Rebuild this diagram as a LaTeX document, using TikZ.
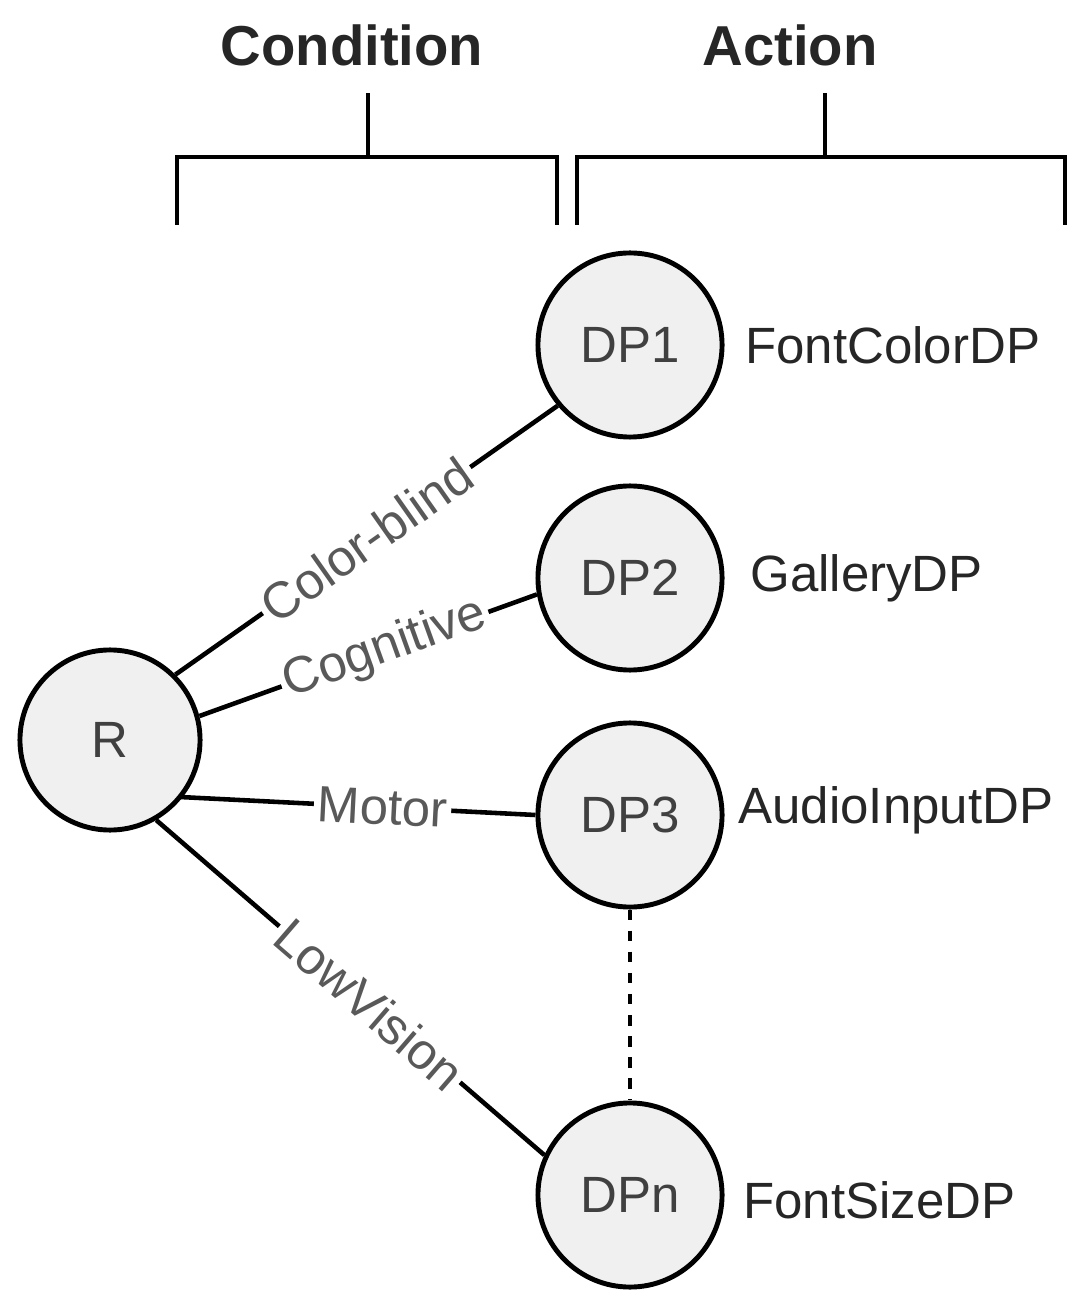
\documentclass[tikz,border=0pt]{standalone}
\usepackage{fontspec}
\setmainfont{Liberation Sans}
\begin{document}
\begin{tikzpicture}[x=0.01cm,y=-0.01cm,
  st/.style={circle,draw=black,line width=1.4pt,fill=gray!12,minimum size=1.84cm,inner sep=0pt,text=black!75,font=\fontsize{14.5}{17}\selectfont},
  el/.style={fill=white,inner sep=1pt,text=black!65,font=\fontsize{14.5}{17}\selectfont,sloped},
  ln/.style={line width=1.3pt},
  rl/.style={anchor=west,font=\fontsize{14.5}{17}\selectfont,text=black!85},
  hd/.style={font=\bfseries\fontsize{16}{19}\selectfont,text=black!85}]
\useasboundingbox (0,0) rectangle (1080,1304);
\node[st,minimum size=1.8cm] (R) at (110,740) {R};
\node[st] (d1) at (630,345) {DP1};
\node[st] (d2) at (630,578) {DP2};
\node[st] (d3) at (630,815) {DP3};
\node[st] (dn) at (630,1195) {DPn};
\node[rl] (l1) at (733,345) {FontColorDP};
\node[rl] (l2) at (738,578) {GalleryDP};
\node[rl] (l3) at (726,810) {AudioInputDP};
\node[rl] (ln4) at (731,1200) {FontSizeDP};
\draw[ln] (R.45) -- node[el,pos=0.5] {Color-blind} (d1.220);
\draw[ln] (R.15) -- node[el,pos=0.55] {Cognitive} (d2.190);
\draw[ln] (180,797) -- node[el,pos=0.57] {Motor} (d3.180);
\draw[ln] (R.-60) -- node[el,pos=0.55,anchor=center] {LowVision} (dn.155);
\draw[ln,dashed] (d3.south) -- (dn.north);
\node[hd] (hc) at (352,45) {Condition};
\node[hd] (ha) at (790,45) {Action};
\coordinate (c1) at (177,225); \coordinate (c2) at (557,225);
\coordinate (a1) at (577,225); \coordinate (a2) at (1065,225);
\draw[line width=1.4pt] (c1) -- (177,157) -- (557,157) -- (c2) (368,157) -- (368,93);
\draw[line width=1.4pt] (a1) -- (577,157) -- (1065,157) -- (a2) (825,157) -- (825,93);
\end{tikzpicture}
\end{document}
